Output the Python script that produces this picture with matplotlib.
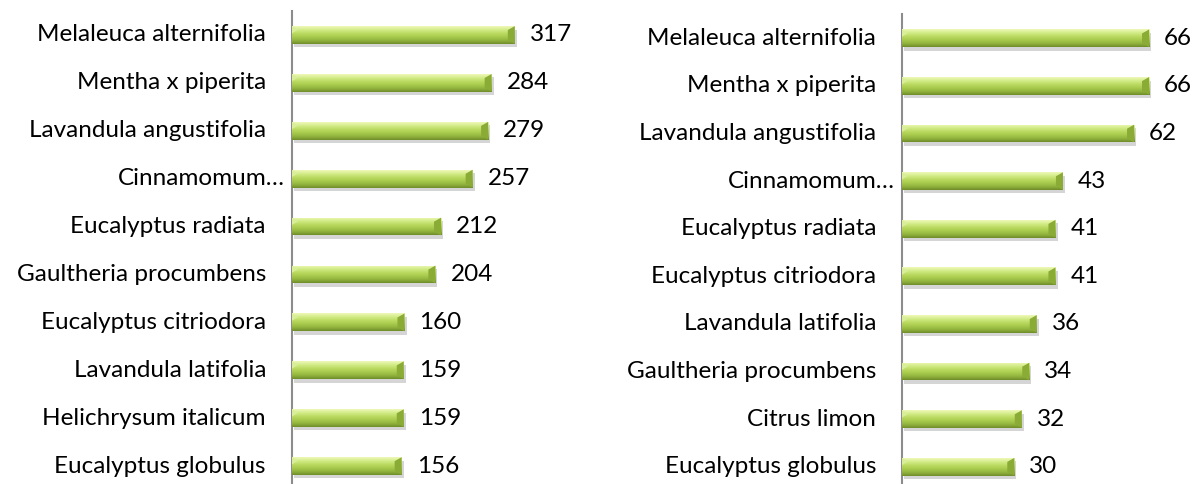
import numpy as np
import matplotlib
matplotlib.use("Agg")
import matplotlib.pyplot as plt
import matplotlib.patheffects as pe
from matplotlib.colors import LinearSegmentedColormap
from matplotlib.patches import Polygon

plt.rcParams['font.family'] = ['Lato', 'DejaVu Sans']

# left panel
left_names = ["Melaleuca alternifolia", "Mentha x piperita", "Lavandula angustifolia",
              "Cinnamomum…", "Eucalyptus radiata", "Gaultheria procumbens",
              "Eucalyptus citriodora", "Lavandula latifolia", "Helichrysum italicum",
              "Eucalyptus globulus"]
left_vals = [317, 284, 279, 257, 212, 204, 160, 159, 159, 156]

# right panel
right_names = ["Melaleuca alternifolia", "Mentha x piperita", "Lavandula angustifolia",
               "Cinnamomum…", "Eucalyptus radiata", "Eucalyptus citriodora",
               "Lavandula latifolia", "Gaultheria procumbens", "Citrus limon",
               "Eucalyptus globulus"]
right_vals = [66, 66, 62, 43, 41, 41, 36, 34, 32, 30]

W, H = 1196, 484
fig = plt.figure(figsize=(W / 100, H / 100), dpi=100)

bar_cmap = LinearSegmentedColormap.from_list(
    "bev", ["#eef8b8", "#d4ec8a", "#bcdb62", "#a8cb4e", "#92b43e", "#6f8c2a"])
grad = np.linspace(0, 1, 64).reshape(-1, 1)
FS = 17.5


def panel(rect_px, xmax, names, vals):
    x0, top, w, h = rect_px
    ax = fig.add_axes([x0 / W, (H - top - h) / H, w / W, h / H])
    y = np.arange(len(vals))
    bh = 0.37
    bars = ax.barh(y, vals, height=bh, color="#a6c94e", linewidth=0, zorder=2)
    sx = w / xmax  # px per data unit
    sy = h / len(vals)
    for b, yy, v in zip(bars, y, vals):
        b.set_path_effects([pe.SimplePatchShadow(offset=(1.5, -2.5), shadow_rgbFace="#777777", alpha=0.3),
                            pe.Normal()])
        im = ax.imshow(grad, cmap=bar_cmap, aspect="auto", origin="upper",
                       extent=(0, v, yy + bh / 2, yy - bh / 2), zorder=3)
        im.set_clip_path(b)
        # bevel at the bar ends
        d = 7 / sx
        dh = 4 / sy
        ax.add_patch(Polygon([(v - d, yy - bh / 2 + dh), (v, yy - bh / 2), (v, yy + bh / 2),
                              (v - d, yy + bh / 2 - dh)], closed=True, facecolor="#8aab36",
                             edgecolor="none", zorder=4))
        ax.add_patch(Polygon([(0, yy - bh / 2), (6 / sx, yy - bh / 2 + dh * 0.9),
                              (0, yy - bh / 2 + 2 * dh * 0.9)], closed=True, facecolor="#d9ee98",
                             edgecolor="none", zorder=4))
        ax.annotate(str(v), (v, yy), xytext=(15, 0), textcoords="offset pixels",
                    va="center", ha="left", fontsize=FS, color="black")
    ax.set_xlim(0, xmax)
    ax.set_ylim(len(vals) - 0.5, -0.5)
    for yy, n in zip(y, names):
        off = -7 if n.endswith("…") else -26
        ax.annotate(n, (0, yy), xytext=(off, 0), textcoords="offset pixels",
                    va="center", ha="right", fontsize=FS, color="black", annotation_clip=False)
    ax.set_xticks([])
    ax.set_yticks([])
    for s in ["top", "right", "bottom"]:
        ax.spines[s].set_visible(False)
    ax.spines["left"].set_color("#8c8c8c")
    ax.spines["left"].set_linewidth(1.5)
    ax.patch.set_alpha(0)
    return ax


panel((292, 11, 246, 479), 350, left_names, left_vals)
panel((902, 14.5, 262, 476), 70, right_names, right_vals)

fig.savefig("out.png", dpi=100, facecolor="white")
